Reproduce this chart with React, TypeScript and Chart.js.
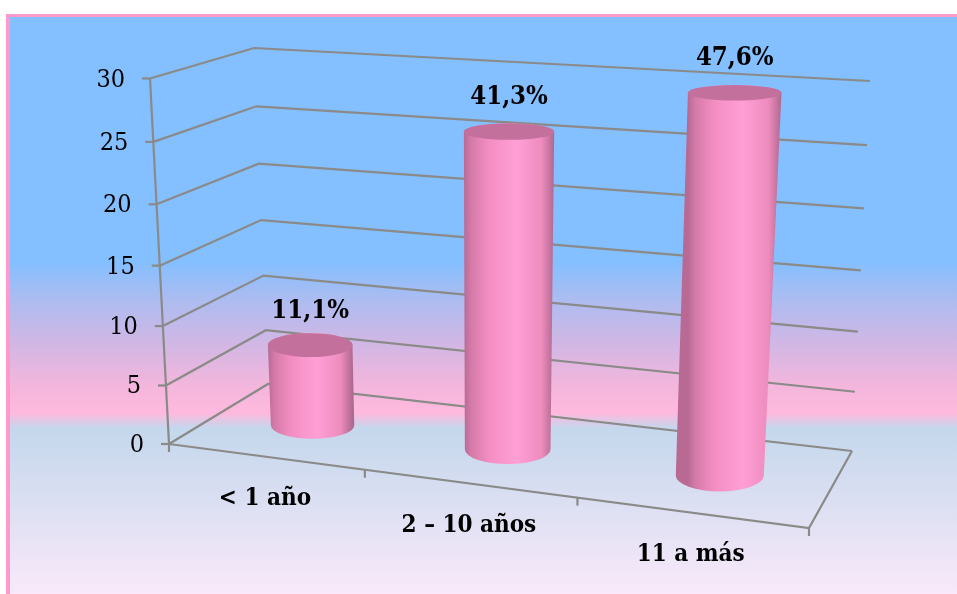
import { useEffect, useRef } from "react";
import { Chart, registerables } from "chart.js";

Chart.register(...registerables);

const categories = ["< 1 año", "2 – 10 años", "11 a más"];
const counts = [7, 26, 30];
const shareLabels = ["11,1%", "41,3%", "47,6%"];

const REGULAR = '"DejaVu Serif Condensed", "DejaVu Serif", serif';
const GRID = "#8a8a88";

type P = [number, number];
const lerp = (a: P, b: P, t: number): P => [a[0] + (b[0] - a[0]) * t, a[1] + (b[1] - a[1]) * t];

// Corners of the drawing box on screen: front/back, left/right, floor/ceiling
const BOX = {
  ffl: [169, 444] as P,
  ffr: [809, 528] as P,
  fbl: [268, 384] as P,
  fbr: [852, 451] as P,
  tfl: [150, 78.5] as P,
  tfr: [835, 118] as P,
  tbl: [254, 48] as P,
  tbr: [870, 81] as P,
};
const WIDTH_FORESHORTEN = 0.882;
const RADIUS_FORESHORTEN = 0.96;
const HEIGHT_FORESHORTEN = 0.953;
const CYLINDER_DEPTH = 0.215;
const CYLINDER_SHIFT = 2;

const warp = (t: number, k: number) => (k * t) / (1 + (k - 1) * t);
const slope = (t: number, k: number) => k / (1 + (k - 1) * t) ** 2;

function project(u: number, w: number, v: number): P {
  const f = warp(u, WIDTH_FORESHORTEN);
  const g = warp(v, HEIGHT_FORESHORTEN);
  const floor = lerp(lerp(BOX.ffl, BOX.ffr, f), lerp(BOX.fbl, BOX.fbr, f), w);
  const top = lerp(lerp(BOX.tfl, BOX.tfr, f), lerp(BOX.tbl, BOX.tbr, f), w);
  return lerp(floor, top, g);
}

function line(ctx: CanvasRenderingContext2D, pts: P[]) {
  ctx.beginPath();
  pts.forEach((p, i) => (i ? ctx.lineTo(p[0], p[1]) : ctx.moveTo(p[0], p[1])));
  ctx.stroke();
}

function cylinder(ctx: CanvasRenderingContext2D, u: number, du: number, v: number) {
  const soften = slope(u, RADIUS_FORESHORTEN) / slope(u, WIDTH_FORESHORTEN);
  const ring = (h: number) => {
    const c = project(u, 0.5, h);
    const l = project(u - du, 0.5, h);
    const r = project(u + du, 0.5, h);
    const near = project(u, 0.5 - CYLINDER_DEPTH, h);
    const far = project(u, 0.5 + CYLINDER_DEPTH, h);
    return {
      cx: (l[0] + r[0]) / 2 + CYLINDER_SHIFT,
      cy: c[1],
      rx: ((r[0] - l[0]) / 2) * soften,
      ry: (near[1] - far[1]) / 2,
    };
  };
  const a = ring(v);
  const b = ring(0);

  const side = ctx.createLinearGradient(a.cx - a.rx, 0, a.cx + a.rx, 0);
  side.addColorStop(0, "#b86a95");
  side.addColorStop(0.08, "#d47aa9");
  side.addColorStop(0.28, "#f48ec2");
  side.addColorStop(0.58, "#ff9fd6");
  side.addColorStop(0.86, "#ee8cbe");
  side.addColorStop(0.96, "#c0729c");
  side.addColorStop(1, "#ae6a90");

  ctx.beginPath();
  ctx.moveTo(a.cx - a.rx, a.cy);
  ctx.lineTo(b.cx - b.rx, b.cy);
  ctx.ellipse(b.cx, b.cy, b.rx, b.ry, 0, Math.PI, 0, true);
  ctx.lineTo(a.cx + a.rx, a.cy);
  ctx.ellipse(a.cx, a.cy, a.rx, a.ry, 0, 0, Math.PI, true);
  ctx.closePath();
  ctx.fillStyle = side;
  ctx.fill();

  ctx.beginPath();
  ctx.ellipse(a.cx, a.cy, a.rx, a.ry, 0, 0, Math.PI * 2);
  ctx.fillStyle = "#c4709c";
  ctx.fill();
  return a;
}

const backdrop = {
  id: "backdrop",
  beforeDraw(chart: Chart) {
    const { ctx, width, height } = chart;
    ctx.save();
    ctx.fillStyle = "#ffffff";
    ctx.fillRect(0, 0, width, height);
    ctx.fillStyle = "#ff99cc";
    ctx.fillRect(6, 14, width - 6, height - 14);
    const g = ctx.createLinearGradient(0, 17, 0, height);
    const at = (y: number) => (y - 17) / (height - 17);
    g.addColorStop(0, "#84bfff");
    g.addColorStop(at(262), "#84bfff");
    g.addColorStop(at(300), "#adbcf0");
    g.addColorStop(at(345), "#d2b7e4");
    g.addColorStop(at(385), "#f3b6dc");
    g.addColorStop(at(413), "#ffb9de");
    g.addColorStop(at(428), "#c4d7ec");
    g.addColorStop(1, "#f9e9fa");
    ctx.fillStyle = g;
    ctx.fillRect(10, 17, width - 10, height - 17);
    ctx.restore();
  },
};

const box3d = {
  id: "box3d",
  afterDatasetsDraw(chart: Chart) {
    const { ctx, chartArea, scales } = chart;
    const area = chartArea;
    const sx = scales.x;
    const sy = scales.y;
    const toU = (px: number) => (px - area.left) / (area.right - area.left);
    const toV = (py: number) => (area.bottom - py) / (area.bottom - area.top);

    ctx.save();
    ctx.strokeStyle = GRID;
    ctx.lineWidth = 2.2;
    ctx.lineJoin = "miter";

    // Side wall and back wall rules, with the value ticks on the left
    ctx.textAlign = "right";
    ctx.textBaseline = "middle";
    ctx.font = `25px ${REGULAR}`;
    sy.ticks.forEach((tick: any, i: number) => {
      const v = toV(sy.getPixelForTick(i));
      const front = project(0, 0, v);
      line(ctx, [front, project(0, 1, v), project(1, 1, v)]);
      line(ctx, [[front[0] - 8, front[1]], front]);
      ctx.fillStyle = "#000000";
      ctx.fillText(String(tick.label), front[0] - 25, front[1] + 1.5);
    });
    line(ctx, [project(0, 0, 0), project(0, 0, 1)]);

    // Floor edges and the category ticks
    line(ctx, [project(0, 0, 0), project(1, 0, 0), project(1, 1, 0)]);
    categories.forEach((_, i) => {
      const edge = project(i / categories.length, 0, 0);
      line(ctx, [edge, [edge[0], edge[1] + 8]]);
    });
    const last = project(1, 0, 0);
    line(ctx, [last, [last[0], last[1] + 8]]);

    // Cylinders and their labels
    const bars = chart.getDatasetMeta(0).data as any[];
    bars.forEach((bar, i) => {
      const u = toU(bar.x);
      const du = bar.width / (area.right - area.left) / 2;
      const v = toV(bar.y);
      const top = cylinder(ctx, u, du, v);

      ctx.fillStyle = "#000000";
      ctx.textAlign = "center";
      ctx.textBaseline = "middle";
      ctx.font = `bold 25.5px ${REGULAR}`;
      ctx.fillText(shareLabels[i], top.cx, top.cy - 34);

      const foot = project(toU(sx.getPixelForValue(i)), 0, 0);
      ctx.font = `bold 24px ${REGULAR}`;
      ctx.fillText(categories[i], foot[0], foot[1] + 42);
    });
    ctx.restore();
  },
};

export default function App() {
  const ref = useRef<HTMLCanvasElement>(null);

  useEffect(() => {
    const chart = new Chart(ref.current!, {
      type: "bar",
      data: {
        labels: categories,
        datasets: [
          {
            data: counts,
            backgroundColor: "rgba(0,0,0,0)",
            borderWidth: 0,
            barPercentage: 0.42,
            categoryPercentage: 1,
          },
        ],
      },
      options: {
        responsive: false,
        animation: false,
        layout: { padding: { left: 170, right: 100, top: 80, bottom: 150 } },
        plugins: { legend: { display: false }, tooltip: { enabled: false } },
        scales: {
          x: { display: false },
          y: { display: false, min: 0, max: 30, ticks: { stepSize: 5 } },
        },
      },
      plugins: [backdrop, box3d],
    });
    return () => chart.destroy();
  }, []);

  return (
    <div style={{ position: "fixed", left: 0, top: 0, width: 957, height: 594 }}>
      <canvas ref={ref} width={957} height={594} style={{ display: "block" }} />
    </div>
  );
}
